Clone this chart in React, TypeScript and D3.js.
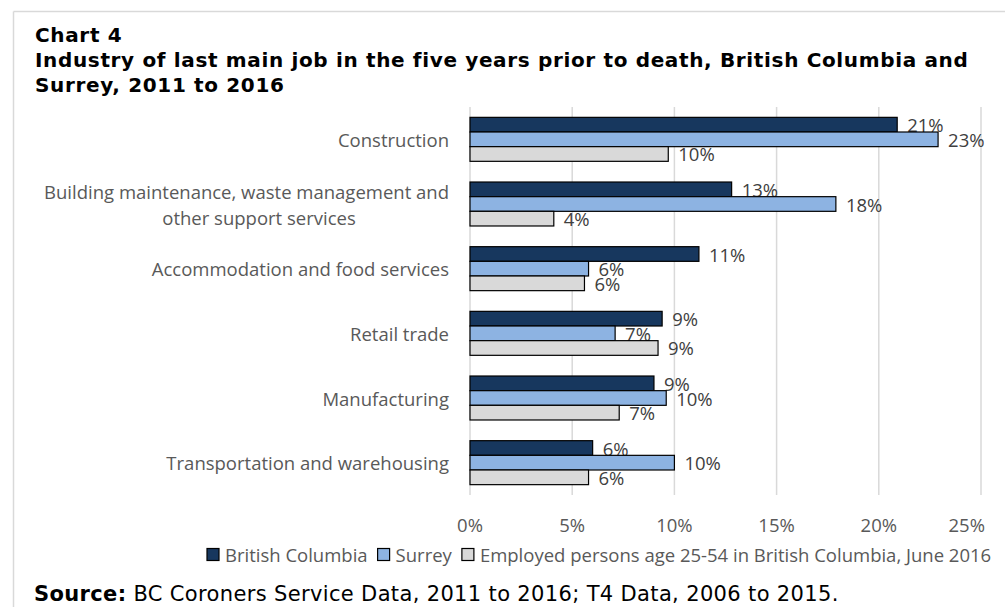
import React, { useEffect, useRef } from "react";
import * as d3 from "d3";

const categories = [
  "Construction",
  "Building maintenance, waste management and|other support services",
  "Accommodation and food services",
  "Retail trade",
  "Manufacturing",
  "Transportation and warehousing",
];
const seriesNames = [
  "British Columbia",
  "Surrey",
  "Employed persons age 25-54 in British Columbia, June 2016",
];
const bcValues = [20.9, 12.8, 11.2, 9.4, 9.0, 6.0];
const surreyValues = [22.9, 17.9, 5.8, 7.1, 9.6, 10.0];
const employedValues = [9.7, 4.1, 5.6, 9.2, 7.3, 5.8];
const valueLabels = [
  ["21%", "13%", "11%", "9%", "9%", "6%"],
  ["23%", "18%", "6%", "7%", "10%", "10%"],
  ["10%", "4%", "6%", "9%", "7%", "6%"],
];
const xTicks = [0, 5, 10, 15, 20, 25];
const colors = ["#17375e", "#8db3e2", "#d9d9d9"];

const W = 1005;
const H = 607;
const labelFont = "'Open Sans', sans-serif";
const titleFont = "'DejaVu Sans', Verdana, sans-serif";
const LS = 18.5;

export default function App() {
  const ref = useRef<SVGSVGElement | null>(null);

  useEffect(() => {
    const svg = d3.select(ref.current);
    svg.selectAll("*").remove();

    // frame
    svg.append("line").attr("x1", 13.5).attr("x2", W).attr("y1", 11.5).attr("y2", 11.5)
      .attr("stroke", "#d9d9d9").attr("stroke-width", 1.5);
    svg.append("line").attr("x1", 13.5).attr("x2", 13.5).attr("y1", 11.5).attr("y2", H)
      .attr("stroke", "#d9d9d9").attr("stroke-width", 1.5);

    // title
    const titleLines = [
      "Chart 4",
      "Industry of last main job in the five years prior to death, British Columbia and",
      "Surrey, 2011 to 2016",
    ];
    titleLines.forEach((t, i) => {
      svg.append("text").attr("x", 35).attr("y", 42 + i * 25)
        .attr("font-family", titleFont).attr("font-weight", "bold").attr("font-size", 20)
        .attr("letter-spacing", 0.65)
        .attr("fill", "#000").text(t);
    });

    const x = d3.scaleLinear().domain([0, 25]).range([470, 981]);
    const y = d3.scaleBand().domain(categories).range([107, 495]).paddingInner(0.32).paddingOuter(0.16);
    const yi = d3.scaleBand().domain(["0", "1", "2"]).range([0, y.bandwidth()]);

    // gridlines
    svg.append("g").selectAll("line").data(xTicks).join("line")
      .attr("x1", (d) => x(d)).attr("x2", (d) => x(d))
      .attr("y1", 107).attr("y2", 495)
      .attr("stroke", "#d9d9d9").attr("stroke-width", 1.5);

    // tick labels (last one kept inside the chart area, as in the original)
    const lastTick = xTicks[xTicks.length - 1];
    svg.append("g").selectAll("text").data(xTicks).join("text")
      .attr("x", (d) => (d === lastTick ? W - 20 : x(d)))
      .attr("y", 524)
      .attr("text-anchor", (d) => (d === lastTick ? "end" : "middle"))
      .attr("dominant-baseline", "central")
      .attr("font-family", labelFont).attr("font-size", LS).attr("fill", "#595959")
      .text((d) => `${d}%`);

    const allSeries = [bcValues, surreyValues, employedValues];
    allSeries.forEach((vals, s) => {
      const g = svg.append("g");
      g.selectAll("rect").data(vals).join("rect")
        .attr("x", x(0))
        .attr("y", (_d, i) => (y(categories[i]) as number) + (yi(String(s)) as number))
        .attr("width", (d) => x(d) - x(0))
        .attr("height", yi.bandwidth())
        .attr("fill", colors[s]).attr("stroke", "#000").attr("stroke-width", 1.2);
      g.selectAll("text").data(vals).join("text")
        .attr("x", (d) => x(d) + 10)
        .attr("y", (_d, i) => (y(categories[i]) as number) + (yi(String(s)) as number) + yi.bandwidth() / 2)
        .attr("dominant-baseline", "central")
        .attr("font-family", labelFont).attr("font-size", LS).attr("fill", "#404040")
        .text((_d, i) => valueLabels[s][i]);
    });

    // category labels
    categories.forEach((c) => {
      const parts = c.split("|");
      const cy = (y(c) as number) + y.bandwidth() / 2;
      const lh = 26;
      parts.forEach((p, j) => {
        const t = svg.append("text")
          .attr("y", cy + (j - (parts.length - 1) / 2) * lh)
          .attr("dominant-baseline", "central")
          .attr("font-family", labelFont).attr("font-size", LS).attr("fill", "#595959")
          .text(p);
        if (j === 0) t.attr("x", 449).attr("text-anchor", "end");
        else t.attr("x", 259).attr("text-anchor", "middle");
      });
    });

    // legend
    let lx = 207;
    seriesNames.forEach((n, s) => {
      svg.append("rect").attr("x", lx).attr("y", 548.5).attr("width", 12).attr("height", 12)
        .attr("fill", colors[s]).attr("stroke", "#000").attr("stroke-width", 1.2);
      const t = svg.append("text").attr("x", lx + 18).attr("y", 554.5)
        .attr("dominant-baseline", "central")
        .attr("font-family", labelFont).attr("font-size", LS).attr("fill", "#595959")
        .text(n);
      const w = (t.node() as SVGTextElement).getComputedTextLength();
      lx = lx + 18 + w + 10;
    });

    // source
    const src = svg.append("text").attr("x", 34).attr("y", 601)
      .attr("font-family", titleFont).attr("font-size", 21).attr("letter-spacing", 0.35)
      .attr("fill", "#000");
    src.append("tspan").attr("font-weight", "bold").text("Source:");
    src.append("tspan").text(" BC Coroners Service Data, 2011 to 2016; T4 Data, 2006 to 2015.");
  }, []);

  return (
    <div style={{ position: "fixed", left: 0, top: 0 }}>
      <svg ref={ref} width={W} height={H} style={{ display: "block", background: "#fff" }} />
    </div>
  );
}
